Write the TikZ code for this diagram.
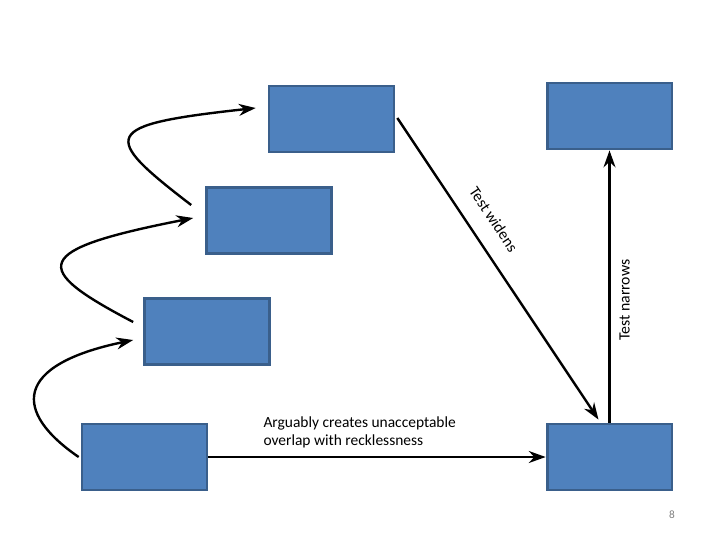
\documentclass[tikz,border=0pt]{standalone}
\usepackage{fontspec}
\setmainfont{Carlito}
\usetikzlibrary{arrows.meta,calc}
\definecolor{boxblue}{HTML}{4F81BD}
\definecolor{boxedge}{HTML}{3A5F8B}

\begin{document}
\begin{tikzpicture}[
    x=0.025cm, y=-0.025cm,
    box/.style={rectangle, draw=boxedge, fill=boxblue, line width=2pt, minimum width=3.12cm, minimum height=1.65cm},
    arrow/.style={-{Stealth[length=12pt,width=8.5pt]}, line width=1.7pt},
    lbl/.style={font=\fontsize{11.2}{12.8}\selectfont, align=left}
]
    \useasboundingbox (0,0) rectangle (720,540);

    \node[box] (base) at (144.5,457) {};
    \node[box] (rung1) at (207,331.5) {};
    \node[box] (rung2) at (269,220.5) {};
    \node[box] (rung3) at (331.5,119) {};
    \node[box] (narrow) at (609.5,116) {};
    \node[box] (target) at (609.5,457) {};

    \draw[arrow] ($(base.west)+(-2,0)$) .. controls (13,412) and (13,365) .. ($(rung1.west)+(-10,8.5)$);
    \draw[arrow] ($(rung1.west)+(-10,-9.5)$) .. controls (30,268) and (30,250) .. ($(rung2.west)+(-12,-2.5)$);
    \draw[arrow] ($(rung2.west)+(-14,-15.5)$) .. controls (100,135) and (100,125) .. ($(rung3.west)+(-12,-11)$);

    \draw[arrow] ($(rung3.east)+(2,-1)$) -- node[pos=0.38, sloped, above=9pt, lbl] {Test widens} ($(target.north)+(-11,-3)$);
    \draw[arrow] (target.north) -- node[pos=0.45, sloped, below=3pt, lbl] {Test narrows} (narrow.south);
    \draw[arrow] (base.east) -- node[pos=0.16, anchor=south west, inner sep=0pt, yshift=5.5pt, lbl, font=\fontsize{11}{12.8}\selectfont] {Arguably creates unacceptable\\overlap with recklessness} (target.west);

    \node[font=\fontsize{8}{9}\selectfont, text=gray] (pagenum) at (672,515) {8};
\end{tikzpicture}
\end{document}
